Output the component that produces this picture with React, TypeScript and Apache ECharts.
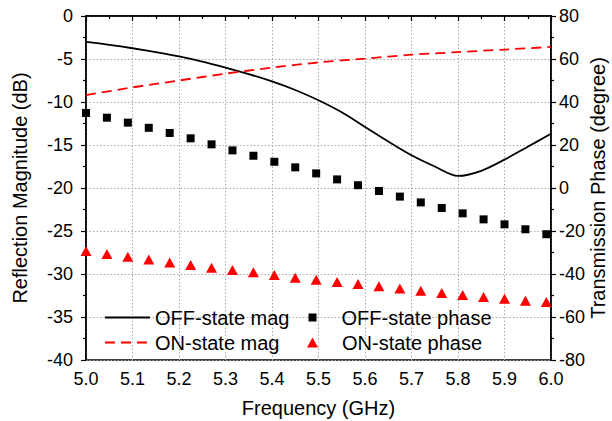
import React, { useEffect, useRef } from "react";
import * as echarts from "echarts";

const curveFreq = [5.0, 5.05, 5.1, 5.15, 5.2, 5.25, 5.3, 5.35, 5.4, 5.45, 5.5, 5.55, 5.6, 5.65, 5.7, 5.75, 5.8, 5.85, 5.9, 5.95, 6.0];
const offMag = [-3.0, -3.35, -3.75, -4.2, -4.7, -5.3, -6.0, -6.75, -7.6, -8.6, -9.8, -11.2, -12.9, -14.6, -16.2, -17.5, -18.6, -18.0, -16.7, -15.2, -13.7];

const onFreq = [5.0, 5.1, 5.2, 5.3, 5.4, 5.5, 5.6, 5.7, 5.8, 5.9, 6.0];
const onMag = [-9.2, -8.3, -7.5, -6.7, -6.0, -5.4, -4.95, -4.5, -4.2, -3.9, -3.6];

const markerFreq = [5.0, 5.045, 5.09, 5.135, 5.18, 5.225, 5.27, 5.315, 5.36, 5.405, 5.45, 5.495, 5.54, 5.585, 5.63, 5.675, 5.72, 5.765, 5.81, 5.855, 5.9, 5.945, 5.99];
const offPhase = [34.9, 32.7, 30.4, 28.0, 25.6, 23.1, 20.3, 17.5, 15.0, 12.2, 9.6, 6.8, 4.0, 1.3, -1.4, -4.0, -6.7, -9.3, -11.8, -14.6, -16.9, -19.2, -21.5];
const onPhase = [-29.3, -30.7, -32.0, -33.3, -34.6, -35.8, -37.1, -38.1, -39.2, -40.5, -41.7, -42.7, -43.7, -44.7, -45.7, -46.8, -47.8, -48.8, -49.8, -50.7, -51.5, -52.4, -53.0];

const FONT = '"Liberation Sans", Arial, sans-serif';

const zip = (xs: number[], ys: number[]) => xs.map((x, i) => [x, ys[i]]);

export default function App() {
  const ref = useRef<HTMLDivElement>(null);
  useEffect(() => {
    if (!ref.current) return;
    const chart = echarts.init(ref.current, undefined, { renderer: "svg" });
    const legendText = { fontFamily: FONT, fontSize: 20, color: "#000", lineHeight: 20 };
    chart.setOption({
      animation: false,
      backgroundColor: "#fff",
      grid: { left: 86, right: 61, top: 16, bottom: 61, show: true, borderColor: "#000", borderWidth: 1.5, backgroundColor: "transparent", outerBoundsMode: "none", containLabel: false },
      legend: [
        { data: ["OFF-state mag"], left: 104, top: 307.5, padding: 0, itemWidth: 45, itemHeight: 14, itemGap: 0, itemStyle: { opacity: 0 }, textStyle: legendText },
        { data: ["ON-state mag"], left: 104, top: 332.5, padding: 0, itemWidth: 45, itemHeight: 14, itemGap: 0, itemStyle: { opacity: 0 }, textStyle: legendText },
        { data: ["OFF-state phase"], left: 308.5, top: 307.5, padding: 0, itemWidth: 8, itemHeight: 8, itemGap: 0, icon: "rect", textStyle: { ...legendText, padding: [0, 0, 0, 20] } },
        { data: ["ON-state phase"], left: 307, top: 332.5, padding: 0, itemWidth: 11, itemHeight: 10, itemGap: 0, icon: "triangle", textStyle: { ...legendText, padding: [0, 0, 0, 19] } },
      ],
      xAxis: {
        type: "value",
        min: 5.0,
        max: 6.0,
        interval: 0.1,
        name: "Frequency (GHz)",
        nameLocation: "middle",
        nameGap: 38,
        nameMoveOverlap: false,
        nameTextStyle: { fontFamily: FONT, fontSize: 20, color: "#000" },
        axisLine: { show: true, lineStyle: { color: "#000", width: 1.5 } },
        axisTick: { show: true, inside: false, length: 5, lineStyle: { color: "#000", width: 1.2 } },
        minorTick: { show: true, splitNumber: 2, length: 3, lineStyle: { color: "#000", width: 1.2 } },
        axisLabel: { fontFamily: FONT, fontSize: 18, color: "#000", margin: 10, formatter: (v: number) => v.toFixed(1) },
        splitLine: { show: true, lineStyle: { color: "#aaa", type: [1.5, 2], width: 1 } },
      },
      yAxis: [
        {
          type: "value",
          min: -40,
          max: 0,
          interval: 5,
          name: "Reflection Magnitude (dB)",
          nameLocation: "middle",
          nameGap: 56,
          nameMoveOverlap: false,
          nameTextStyle: { fontFamily: FONT, fontSize: 20, color: "#000" },
          axisLine: { show: true, lineStyle: { color: "#000", width: 1.5 } },
          axisTick: { show: true, inside: false, length: 5, lineStyle: { color: "#000", width: 1.2 } },
          minorTick: { show: true, splitNumber: 2, length: 3, lineStyle: { color: "#000", width: 1.2 } },
          axisLabel: { fontFamily: FONT, fontSize: 18, color: "#000", margin: 13 },
          splitLine: { show: true, lineStyle: { color: "#aaa", type: [1.5, 2], width: 1 } },
        },
        {
          type: "value",
          position: "right",
          min: -80,
          max: 80,
          interval: 20,
          name: "Transmission Phase (degree)",
          nameLocation: "middle",
          nameGap: 37,
          nameMoveOverlap: false,
          nameTextStyle: { fontFamily: FONT, fontSize: 20, color: "#000" },
          axisLine: { show: true, lineStyle: { color: "#000", width: 1.5 } },
          axisTick: { show: true, inside: false, length: 5, lineStyle: { color: "#000", width: 1.2 } },
          minorTick: { show: true, splitNumber: 2, length: 3, lineStyle: { color: "#000", width: 1.2 } },
          axisLabel: { fontFamily: FONT, fontSize: 18, color: "#000", margin: 8 },
          splitLine: { show: false },
        },
      ],
      series: [
        {
          name: "OFF-state mag",
          type: "line",
          yAxisIndex: 0,
          data: zip(curveFreq, offMag),
          smooth: 0.3,
          symbol: "none",
          lineStyle: { color: "#000", width: 1.8, type: "solid" },
          itemStyle: { color: "#000" },
          z: 3,
        },
        {
          name: "ON-state mag",
          type: "line",
          yAxisIndex: 0,
          data: zip(onFreq, onMag),
          smooth: 0.3,
          symbol: "none",
          lineStyle: { color: "#ff0000", width: 1.8, type: [10, 6] },
          itemStyle: { color: "#ff0000" },
          z: 3,
        },
        {
          name: "OFF-state phase",
          type: "scatter",
          yAxisIndex: 1,
          data: zip(markerFreq, offPhase),
          symbol: "rect",
          symbolSize: 8,
          itemStyle: { color: "#000", opacity: 1 },
          z: 4,
        },
        {
          name: "ON-state phase",
          type: "scatter",
          yAxisIndex: 1,
          data: zip(markerFreq, onPhase),
          symbol: "triangle",
          symbolSize: [11, 10],
          itemStyle: { color: "#ff0000", opacity: 1 },
          z: 4,
        },
      ],
    });
    return () => chart.dispose();
  }, []);
  return <div ref={ref} style={{ position: "fixed", left: 0, top: 0, width: 612, height: 421 }} />;
}
